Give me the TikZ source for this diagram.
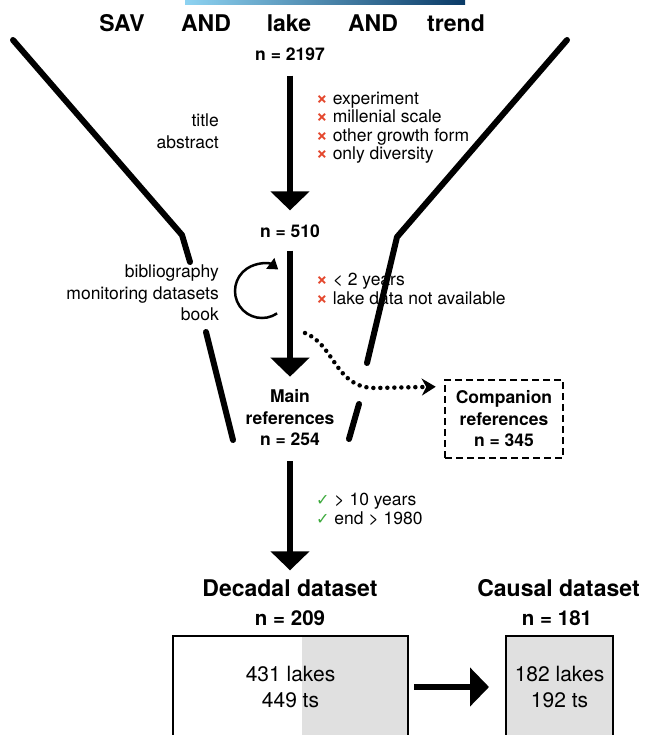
\documentclass[tikz,border=0pt]{standalone}
\usepackage{fontspec}
\setmainfont{TeX Gyre Heros}
\newfontfamily\symfont{DejaVu Sans}
\usetikzlibrary{arrows.meta, positioning, calc}
\definecolor{skyend}{HTML}{8ED3F2}
\definecolor{navyend}{HTML}{0A3A66}
\definecolor{dropred}{HTML}{E4472D}
\definecolor{keepgreen}{HTML}{3DAA3D}
\definecolor{boxgray}{HTML}{E0E0E0}
\newcommand\drop{{\fontsize{20}{19}\selectfont\color{dropred}\bfseries ×}}
\newcommand\keep{{\fontsize{16}{19}\symfont\color{keepgreen}✓}}
\tikzset{%
   % search string words and dataset titles
   term/.style={font=\fontsize{23}{26}\selectfont\bfseries, inner sep=0pt},
   % record counts along the funnel
   count/.style={font=\fontsize{17.5}{21.5}\selectfont\bfseries, align=center, inner sep=0pt},
   note/.style={font=\fontsize{17.5}{21.5}\selectfont, inner sep=0pt},
   rules/.style={font=\fontsize{17.5}{19}\selectfont, align=left, anchor=west, inner sep=0pt},
   funnel/.style={line width=6pt, line cap=round, line join=round},
   flow/.style={line width=6pt, -{Triangle[length=19pt, width=38pt]}},
   loopflow/.style={line width=2.5pt, -{Triangle[length=10pt, width=13pt]}},
   spill/.style={line width=4.5pt, line cap=round, dash pattern=on 0pt off 7pt,
      -{Stealth[length=14pt, width=17pt]}},
   spillbox/.style={count, draw, line width=2.5pt, dash pattern=on 7pt off 4pt,
      minimum width=118pt, minimum height=78pt},
   dataset/.style={draw, line width=2pt, align=center, inner sep=0pt,
      font=\fontsize{21}{26}\selectfont, minimum height=102pt},
}

\begin{document}
\begin{tikzpicture}[x=1pt, y=-1pt]
   \path[use as bounding box, clip] (0,0) rectangle (646,735);
   \shade[left color=skyend, right color=navyend] (185,0) rectangle (465,5);
   \node[term] (sav) at (122,23) {SAV};
   \node[term] (and1) at (206,23) {AND};
   \node[term] (lake) at (289,23) {lake};
   \node[term] (and2) at (373,23) {AND};
   \node[term] (trend) at (456,23) {trend};
   % funnel walls, broken where text or the spill arrow passes
   \draw[funnel] (13,40) -- (182,235) -- (190,262);
   \draw[funnel] (206,332) -- (233,440);
   \draw[funnel] (567,40) -- (397,237) -- (367,363);
   \draw[funnel] (359,404) -- (349,439);
   \node[count] (n2197) at (290,54) {n = 2197};
   \node[count] (n510) at (290,231) {n = 510};
   \node[count] (mainref) at (290,418) {Main\\references\\n = 254};
   \node[spillbox] (companion) at (504,419) {Companion\\references\\n = 345};
   \node[note, align=right, anchor=east] (fields) at (219,131.5) {title\\abstract};
   \node[rules, font=\fontsize{17.5}{18.5}\selectfont] (screen1) at (316,127.5)
      {\drop{} experiment\\\drop{} millenial scale\\\drop{} other growth form\\\drop{} only diversity};
   \node[note, align=right, anchor=east] (sources) at (219,293)
      {bibliography\\monitoring datasets\\book};
   \node[rules] (screen2) at (316,289) {\drop{} < 2 years\\\drop{} lake data not available};
   \node[rules] (screen3) at (316,509) {\keep{} > 10 years\\\keep{} end > 1980};
   \draw[loopflow] (262,291) ++(56:27) arc[start angle=56, end angle=307, radius=27];
   \draw[flow, shorten <=15pt, shorten >=14pt] (n2197) -- (n510);
   \draw[flow, shorten <=13pt, shorten >=13pt] (n510) -- (mainref);
   \coordinate (spillstart) at (305,333);
   \draw[spill] (spillstart) .. controls (335,345) and (335,388) .. (375,388)
      -- ($(companion.north west)+(-8,8)$);
   % the two datasets
   \node[term] (decadal) at (290,588) {Decadal dataset};
   \node[count, font=\fontsize{20.5}{24}\selectfont\bfseries] (n209) at (290,618) {n = 209};
   \node[term] (causal) at (558.5,588) {Causal dataset};
   \node[count, font=\fontsize{20.5}{24}\selectfont\bfseries] (n181) at (557,618) {n = 181};
   \draw[flow, shorten <=15pt, shorten >=9pt] (mainref) -- (decadal);
   \fill[boxgray] (302,636) rectangle (408,738);
   \node[dataset, minimum width=235pt] (decadalbox) at (290.5,687) {431 lakes\\449 ts};
   \node[dataset, fill=boxgray, minimum width=107pt] (causalbox) at (559.5,687) {182 lakes\\192 ts};
   \draw[flow, shorten <=5pt, shorten >=16pt] (decadalbox) -- (causalbox);
\end{tikzpicture}
\end{document}
